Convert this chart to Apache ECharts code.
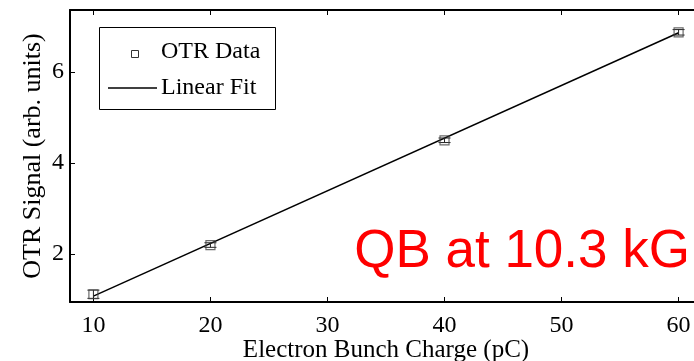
<!DOCTYPE html>
<html>
<head>
<meta charset="utf-8">
<script src="https://cdn.jsdelivr.net/npm/echarts@6/dist/echarts.min.js"></script>
<style>html,body{margin:0;padding:0;background:#fff;}#c{width:694px;height:361px;}</style>
</head>
<body>
<div id="c"></div>
<script>
// ---- data ----
var charge = [10, 20, 40, 60];
var signal = [1.12, 2.2, 4.5, 6.87];
var signalErr = [0.09, 0.05, 0.05, 0.06];
var fitX = [10, 60];
var fitY = [1.08, 6.86];
var xTicks = [10, 20, 30, 40, 50, 60];
var yTicks = [2, 4, 6];
var seriesNames = ['OTR Data', 'Linear Fit'];
var xTitle = 'Electron Bunch Charge (pC)';
var yTitle = 'OTR Signal (arb. units)';
var annotation = 'QB at 10.3 kG';

var serif = 'Liberation Serif';
var chart = echarts.init(document.getElementById('c'), null, {renderer: 'canvas'});

var pts = charge.map(function (c, i) { return [c, signal[i]]; });
var errs = charge.map(function (c, i) { return [c, signal[i] - signalErr[i], signal[i] + signalErr[i]]; });
var fit = fitX.map(function (x, i) { return [x, fitY[i]]; });

var axisCommon = {
  axisLine: {show: true, onZero: false, lineStyle: {color: '#000', width: 2}},
  splitLine: {show: false}
};
var tickStyle = {show: true, inside: true, length: 5, lineStyle: {color: '#000', width: 1}};

chart.setOption({
  animation: false,
  backgroundColor: '#fff',
  grid: {left: 70, top: 10, width: 632, height: 292, containLabel: false, outerBoundsMode: 'none'},
  xAxis: [
    Object.assign({}, axisCommon, {
      type: 'value', min: 8, max: 62, position: 'bottom',
      axisTick: Object.assign({customValues: xTicks}, tickStyle),
      axisLabel: {customValues: xTicks, color: '#000', fontFamily: serif, fontSize: 24, margin: 12},
      name: xTitle, nameLocation: 'middle', nameGap: 36, nameMoveOverlap: false,
      nameTextStyle: {color: '#000', fontFamily: serif, fontSize: 25}
    }),
    Object.assign({}, axisCommon, {
      type: 'value', min: 8, max: 62, position: 'top',
      axisTick: Object.assign({customValues: xTicks}, tickStyle),
      axisLabel: {show: false}
    })
  ],
  yAxis: [
    Object.assign({}, axisCommon, {
      type: 'value', min: 0.95, max: 7.36, position: 'left',
      axisTick: Object.assign({customValues: yTicks}, tickStyle),
      axisLabel: {customValues: yTicks, color: '#000', fontFamily: serif, fontSize: 24, margin: 6},
      name: yTitle, nameLocation: 'middle', nameGap: 24, nameRotate: 90, nameMoveOverlap: false,
      nameTextStyle: {color: '#000', fontFamily: serif, fontSize: 26}
    })
  ],
  series: [
    {
      name: seriesNames[1], type: 'line', data: fit, xAxisIndex: 0, yAxisIndex: 0,
      showSymbol: false, symbol: 'none', lineStyle: {color: '#000', width: 1.5}, z: 2, silent: true
    },
    {
      name: 'err', type: 'custom', data: errs, xAxisIndex: 0, yAxisIndex: 0, z: 3, silent: true,
      renderItem: function (params, api) {
        var lo = api.coord([api.value(0), api.value(1)]);
        var hi = api.coord([api.value(0), api.value(2)]);
        var w = 6;
        var st = {stroke: '#222', lineWidth: 1};
        return {type: 'group', children: [
          {type: 'line', shape: {x1: lo[0], y1: lo[1], x2: hi[0], y2: hi[1]}, style: st},
          {type: 'line', shape: {x1: lo[0] - w, y1: lo[1], x2: lo[0] + w, y2: lo[1]}, style: st},
          {type: 'line', shape: {x1: hi[0] - w, y1: hi[1], x2: hi[0] + w, y2: hi[1]}, style: st}
        ]};
      }
    },
    {
      name: seriesNames[0], type: 'scatter', data: pts, xAxisIndex: 0, yAxisIndex: 0,
      symbol: 'rect', symbolSize: 9, z: 4, silent: true,
      itemStyle: {color: 'rgba(0,0,0,0)', borderColor: '#444', borderWidth: 1.2}
    }
  ],
  graphic: [
    {type: 'rect', left: 99, top: 27, shape: {width: 176, height: 82}, style: {fill: '#fff', stroke: '#000', lineWidth: 1}, z: 10},
    {type: 'rect', left: 129, top: 48, shape: {width: 7, height: 7}, style: {fill: 'none', stroke: '#333', lineWidth: 1}, z: 11},
    {type: 'line', shape: {x1: 108, y1: 88, x2: 157, y2: 88}, style: {stroke: '#000', lineWidth: 1.5}, z: 11},
    {type: 'text', x: 161, y: 52, style: {text: seriesNames[0], font: '24px "Liberation Serif"', fill: '#000', verticalAlign: 'middle'}, z: 11},
    {type: 'text', x: 161, y: 88, style: {text: seriesNames[1], font: '24px "Liberation Serif"', fill: '#000', verticalAlign: 'middle'}, z: 11},
    {type: 'text', x: 690, y: 226, style: {text: annotation, font: '53px "Liberation Sans"', fill: '#ff0000', align: 'right', verticalAlign: 'top'}, z: 11}
  ]
});
</script>
</body>
</html>
